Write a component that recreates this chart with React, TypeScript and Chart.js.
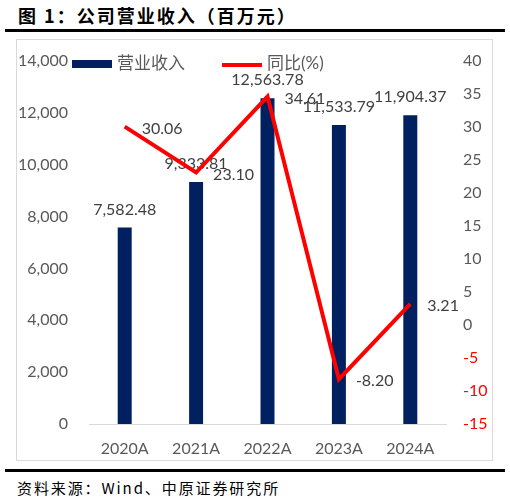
import { useEffect, useRef } from "react";
import { Chart, registerables } from "chart.js";

Chart.register(...registerables);

// 数据
const years = ["2020A", "2021A", "2022A", "2023A", "2024A"];
const revenue = [7582.48, 9333.81, 12563.78, 11533.79, 11904.37];
const yoy = [30.06, 23.1, 34.61, -8.2, 3.21];

const NAVY = "#002060";
const RED = "#FF0000";
const GRAY = "#595959";
const LABEL_GRAY = "#404040";
const NUM_FONT = "Lato, 'Noto Sans CJK SC', sans-serif";

const fmt = (v: number) =>
  v.toLocaleString("en-US", { minimumFractionDigits: 2, maximumFractionDigits: 2 });

// 数据标签 + 图例
const labelPlugin = {
  id: "labels",
  afterDatasetDraw(chart: any, args: any) {
    const ctx = chart.ctx;
    const meta = args.meta;
    ctx.save();
    ctx.font = `16px ${NUM_FONT}`;
    ctx.fillStyle = LABEL_GRAY;
    ctx.textBaseline = "middle";
    if (meta.type === "bar") {
      ctx.textAlign = "center";
      meta.data.forEach((el: any, i: number) => {
        ctx.fillText(fmt(revenue[i]), el.x, el.y - 18);
      });
    } else {
      ctx.textAlign = "left";
      meta.data.forEach((el: any, i: number) => {
        ctx.fillText(yoy[i].toFixed(2), el.x + 17, el.y + 2);
      });
    }
    ctx.restore();
  },
  afterDraw(chart: any) {
    const ctx = chart.ctx;
    ctx.save();
    ctx.fillStyle = NAVY;
    ctx.fillRect(56, 21, 40, 8);
    ctx.strokeStyle = RED;
    ctx.lineWidth = 4;
    ctx.beginPath();
    ctx.moveTo(206, 26);
    ctx.lineTo(246, 26);
    ctx.stroke();
    ctx.font = `17px ${NUM_FONT}`;
    ctx.fillStyle = GRAY;
    ctx.textBaseline = "middle";
    ctx.textAlign = "left";
    ctx.fillText("营业收入", 101, 25);
    ctx.fillText("同比(%)", 251, 25);
    ctx.restore();
  },
};

// 固定轴的尺寸，去掉刻度标签带来的额外边距
const fixY = (w: number) => (s: any) => {
  s.width = w;
  s.paddingTop = 0;
  s.paddingBottom = 0;
};

function RevenueChart() {
  const canvasRef = useRef<HTMLCanvasElement>(null);

  useEffect(() => {
    if (!canvasRef.current) return;
    const chart = new Chart(canvasRef.current, {
      type: "bar",
      data: {
        labels: years,
        datasets: [
          {
            type: "line",
            label: "同比(%)",
            data: yoy,
            yAxisID: "y1",
            borderColor: RED,
            borderWidth: 4,
            pointRadius: 0,
            tension: 0,
            borderJoinStyle: "miter",
            order: 0,
          },
          {
            type: "bar",
            label: "营业收入",
            data: revenue,
            yAxisID: "y",
            backgroundColor: NAVY,
            barPercentage: 0.196,
            categoryPercentage: 1,
            order: 1,
          },
        ],
      } as any,
      options: {
        animation: false,
        responsive: true,
        maintainAspectRatio: false,
        layout: { padding: { top: 22, left: 0, right: 0, bottom: 0 } },
        plugins: {
          legend: { display: false },
          tooltip: { enabled: false },
        },
        scales: {
          x: {
            grid: { display: false, drawTicks: false },
            border: { display: true, color: "#D9D9D9", width: 1 },
            ticks: {
              color: GRAY,
              font: { family: NUM_FONT, size: 16 },
              padding: 15,
            },
            afterFit: (s: any) => {
              s.height = 37;
              s.paddingLeft = 0;
              s.paddingRight = 0;
            },
          },
          y: {
            position: "left",
            min: 0,
            max: 14000,
            grid: { display: false, drawTicks: false },
            border: { display: false },
            ticks: {
              stepSize: 2000,
              color: GRAY,
              font: { family: NUM_FONT, size: 16 },
              padding: 21,
              callback: (v: any) => Number(v).toLocaleString("en-US"),
            },
            afterFit: fixY(73),
          },
          y1: {
            position: "right",
            min: -15,
            max: 40,
            grid: { display: false, drawTicks: false },
            border: { display: false },
            ticks: {
              stepSize: 5,
              color: (c: any) => (c.tick && c.tick.value < 0 ? RED : GRAY),
              font: { family: NUM_FONT, size: 16 },
              padding: 17,
            },
            afterFit: fixY(47),
          },
        },
      } as any,
      plugins: [labelPlugin],
    });
    return () => chart.destroy();
  }, []);

  return <canvas ref={canvasRef} />;
}

export default function App() {
  return (
    <div
      style={{
        position: "absolute",
        left: 0,
        top: 0,
        width: 510,
        height: 502,
        background: "#fff",
      }}
    >
      <div
        style={{
          position: "absolute",
          left: 18,
          top: 3,
          fontFamily: "'Noto Sans CJK SC', sans-serif",
          fontWeight: 700,
          fontSize: 18,
          letterSpacing: 2,
          lineHeight: "24px",
          color: "#000",
          whiteSpace: "nowrap",
        }}
      >
        图 1：公司营业收入（百万元）
      </div>
      <div
        style={{ position: "absolute", left: 5, top: 29, width: 500, height: 3, background: "#000" }}
      />
      <div
        style={{
          position: "absolute",
          left: 16,
          top: 39,
          width: 477,
          height: 422,
          boxSizing: "border-box",
          border: "1px solid #D9D9D9",
        }}
      />
      <div style={{ position: "absolute", left: 16, top: 39, width: 477, height: 422 }}>
        <RevenueChart />
      </div>
      <div
        style={{ position: "absolute", left: 5, top: 469, width: 500, height: 3, background: "#000" }}
      />
      <div
        style={{
          position: "absolute",
          left: 17,
          top: 478,
          fontFamily: "'Noto Sans CJK SC', sans-serif",
          fontSize: 15,
          letterSpacing: 1.9,
          lineHeight: "20px",
          color: "#000",
          whiteSpace: "nowrap",
        }}
      >
        资料来源：Wind、中原证券研究所
      </div>
    </div>
  );
}
